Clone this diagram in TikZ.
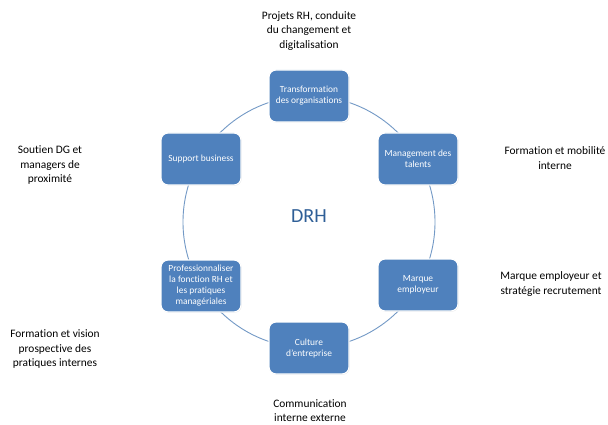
\documentclass[tikz,border=0pt]{standalone}
\usepackage{fontspec}
\setmainfont{Carlito}[Ligatures=NoCommon]
\usetikzlibrary{shadows}
\definecolor{boxblue}{HTML}{4F81BD}
\definecolor{ringblue}{HTML}{7399C6}
\definecolor{titleblue}{HTML}{2F5F97}
\begin{document}
\begin{tikzpicture}[x=1pt,y=-1pt,
  stage/.style={rectangle, rounded corners=7pt, fill=boxblue, draw=white,
    line width=1.2pt, minimum width=80pt, minimum height=52pt,
    align=center, text=white, inner sep=2pt,
    font=\fontsize{9.4}{11}\selectfont,
    drop shadow={shadow xshift=0.6pt, shadow yshift=-0.6pt, opacity=0.25}},
  note/.style={align=center, text=black, inner sep=1pt,
    font=\fontsize{11.4}{14.2}\selectfont}]
\useasboundingbox (0,0) rectangle (608,425);
\fill[white] (0,0) rectangle (608,425);
% ring linking the six stages
\draw[ringblue, line width=0.9pt] (309,222) circle [radius=126];
\node[text=titleblue, font=\fontsize{20}{24}\selectfont] (drh) at (309,216) {DRH};
% stages
\node[stage] (s1) at (309,96)  {Transformation\\des organisations};
\node[stage] (s2) at (418,159) {Management des\\talents};
\node[stage] (s3) at (418,285) {Marque\\employeur};
\node[stage] (s4) at (309,348) {Culture\\d’entreprise};
\node[stage] (s5) at (201,286) {Professionnaliser\\la fonction RH et\\les pratiques\\managériales};
\node[stage] (s6) at (201,159) {Support business};
% outer notes
\node[note] (n1) at (309,31)  {Projets RH, conduite\\du changement et\\digitalisation};
\node[note] (n2) at (555,158) {Formation et mobilité\\interne};
\node[note] (n3) at (551,284) {Marque employeur et\\stratégie recrutement};
\node[note] (n4) at (310,411) {Communication\\interne externe};
\node[note] (n5) at (55,349)  {Formation et vision\\prospective des\\pratiques internes};
\node[note] (n6) at (50,165)  {Soutien DG et\\managers de\\proximité};
\end{tikzpicture}
\end{document}
